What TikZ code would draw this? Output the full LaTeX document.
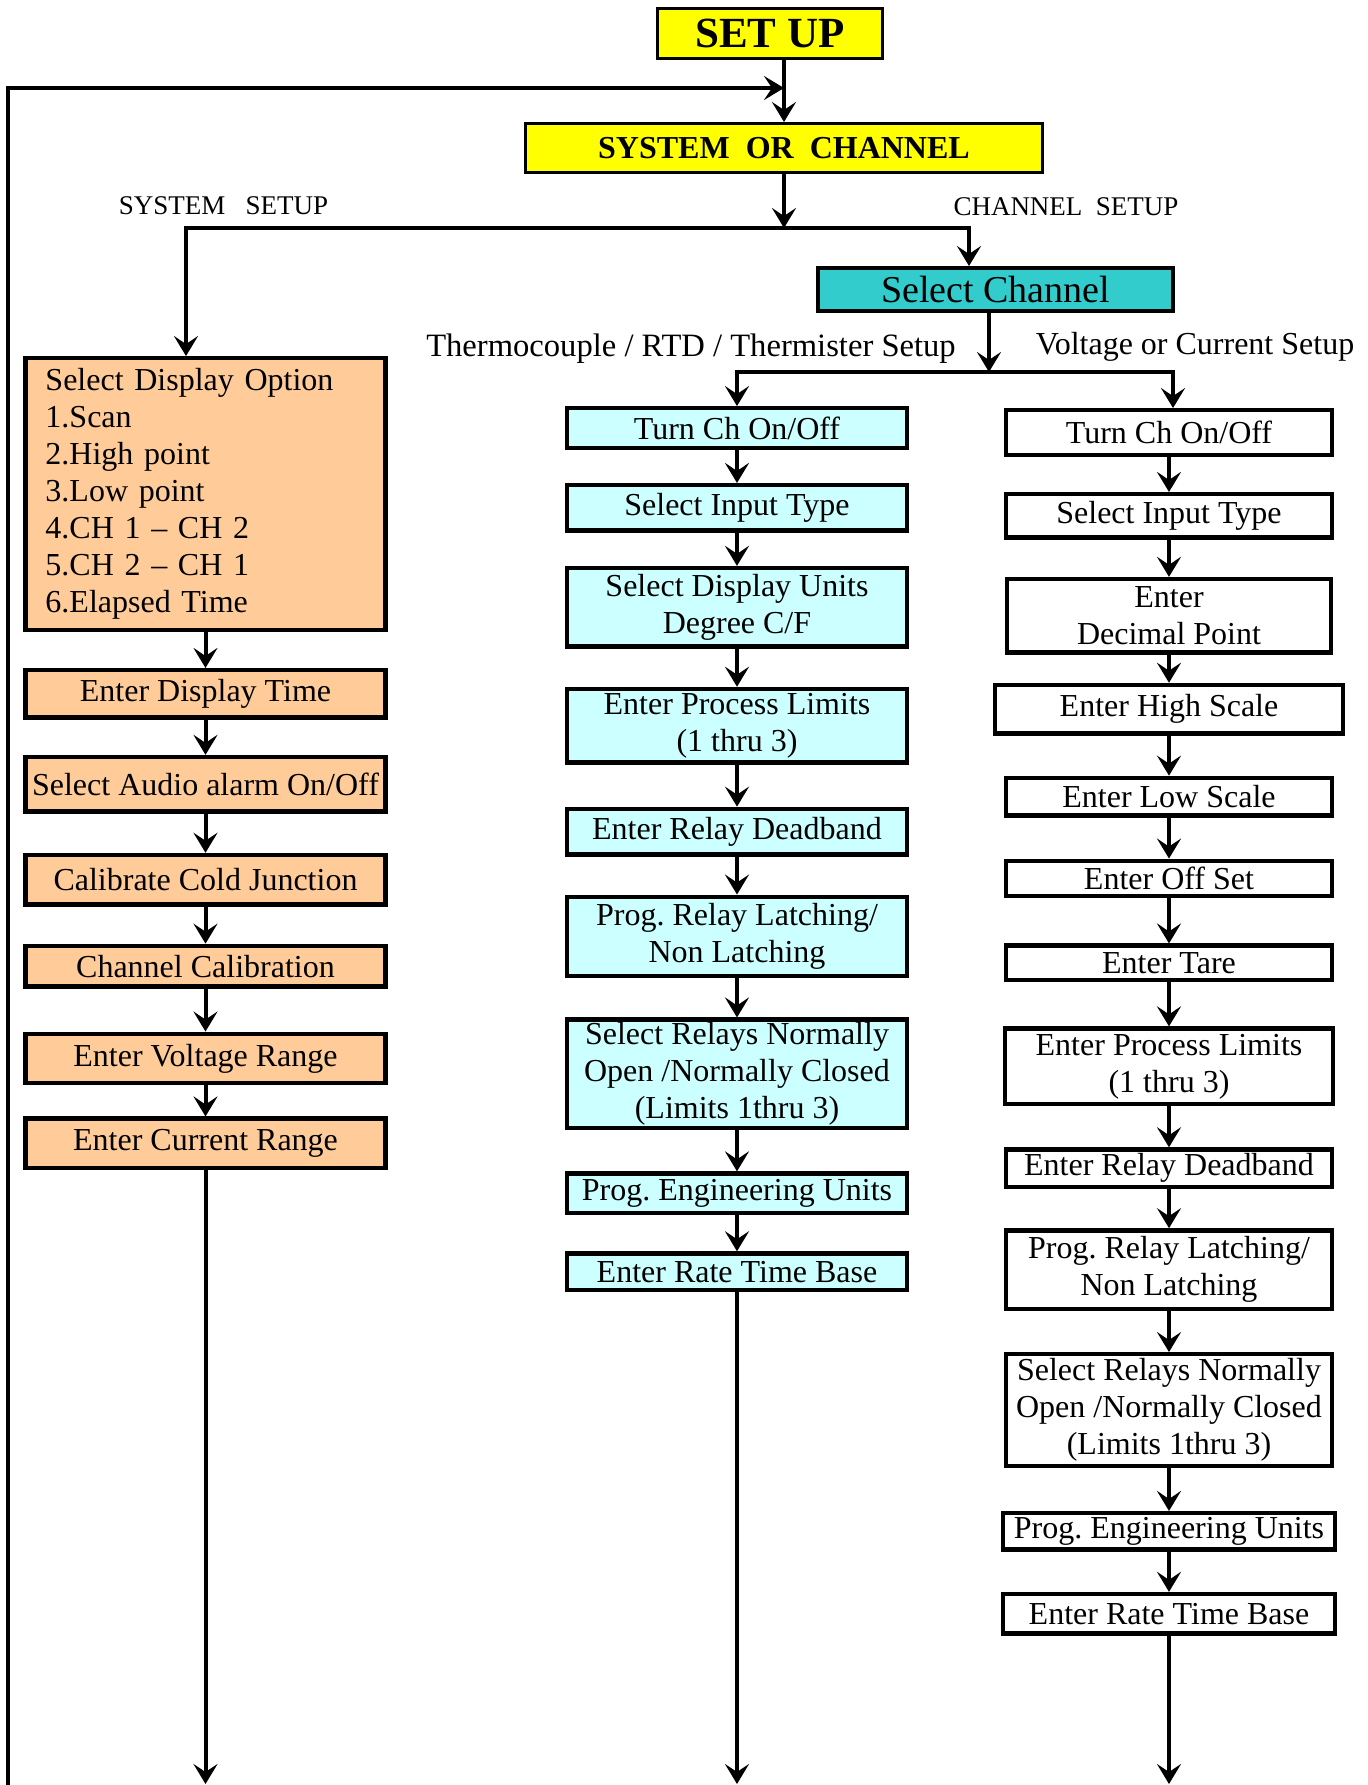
\documentclass[tikz,border=0pt]{standalone}
\usepackage{fontspec}
\setmainfont{Liberation Serif}
\frenchspacing
\usetikzlibrary{arrows.meta,positioning,calc}
\definecolor{setupyellow}{RGB}{255,255,0}
\definecolor{chteal}{RGB}{51,204,204}
\definecolor{syspeach}{RGB}{255,204,153}
\definecolor{tclight}{RGB}{204,255,255}
\tikzstyle{headbox} = [rectangle, draw=black, fill=setupyellow, line width=1.6pt, inner sep=0pt]
\tikzstyle{sysbox} = [rectangle, draw=black, fill=syspeach, line width=2.2pt, inner sep=0pt, minimum width=180pt, align=center, font=\fontsize{16}{18.5}\selectfont]
\tikzstyle{tcbox} = [rectangle, draw=black, fill=tclight, line width=2.2pt, inner sep=0pt, minimum width=170pt, align=center, font=\fontsize{16}{18.5}\selectfont]
\tikzstyle{vcbox} = [rectangle, draw=black, fill=white, line width=2.2pt, inner sep=0pt, minimum width=163pt, align=center, font=\fontsize{16}{18.5}\selectfont]
\tikzstyle{setuptext} = [inner sep=0pt, font=\fontsize{16.3}{18.5}\selectfont]
\tikzstyle{flow} = [line width=2pt, -{Stealth[length=10pt, width=12pt, inset=4pt]}]

\begin{document}
\begin{tikzpicture}[x=0.5pt, y=-0.5pt]

		\useasboundingbox (0,0) rectangle (1368,1785);

		% top of the chart
		\node (set_up) [headbox, minimum width=112.4pt, minimum height=24.9pt, font=\fontsize{21.5}{24}\bfseries\selectfont] at (770,33.5) {SET UP};
		\node (sys_or_ch) [headbox, minimum width=258.4pt, minimum height=24.4pt, font=\fontsize{16}{18}\bfseries\selectfont] at (784,148) {SYSTEM~~OR~~CHANNEL};
		\node (sel_ch) [rectangle, draw=black, fill=chteal, line width=2.2pt, inner sep=0pt, minimum width=177.3pt, minimum height=21.3pt, font=\fontsize{19}{22}\selectfont] at (995.5,289.5) {Select Channel};

		\node (sys_text) [setuptext, font=\fontsize{13.5}{16}\selectfont] at (223.5,206) {SYSTEM~~~SETUP};
		\node (ch_text) [setuptext, font=\fontsize{13.5}{16}\selectfont] at (1066,207) {CHANNEL~~SETUP};
		\node (tc_text) [setuptext] at (691,349) {Thermocouple / RTD / Thermister Setup};
		\node (vc_text) [setuptext, font=\fontsize{16}{18.5}\selectfont] at (1195,347) {Voltage or Current Setup};

		\coordinate (loop_in) at (784,88);
		\coordinate (loop_out) at (8,1792);
		\coordinate (sys_split) at (784,228);
		\coordinate (ch_split) at (989,372);

		% system setup
		\node (sel_disp) [sysbox, align=left, text width=160pt, inner xsep=10pt, minimum height=135.75pt] at (205.5,494) {Select Display Option\\1.Scan\\2.High point\\3.Low point\\4.CH 1 -- CH 2\\5.CH 2 -- CH 1\\6.Elapsed Time};
		\node (disp_time) [sysbox, minimum height=23.75pt, below = 18pt of sel_disp] {Enter Display Time};
		\node (audio) [sysbox, minimum height=27.25pt, below = 17.5pt of disp_time] {Select Audio alarm On/Off};
		\node (cold_junc) [sysbox, minimum height=24.75pt, below = 19.5pt of audio] {Calibrate Cold Junction};
		\node (ch_cal) [sysbox, minimum height=20.25pt, below = 18.5pt of cold_junc] {Channel Calibration};
		\node (volt_range) [sysbox, minimum height=24.75pt, below = 21.5pt of ch_cal] {Enter Voltage Range};
		\node (cur_range) [sysbox, minimum height=24.75pt, below = 15.5pt of volt_range] {Enter Current Range};

		% thermocouple / rtd / thermister setup
		\node (tc_onoff) [tcbox, minimum height=19.75pt] at (737,428) {Turn Ch On/Off};
		\node (tc_input) [tcbox, minimum height=22.75pt, below = 16.5pt of tc_onoff] {Select Input Type};
		\node (tc_units) [tcbox, minimum height=39.25pt, below = 16.5pt of tc_input] {Select Display Units\\Degree C/F};
		\node (tc_limits) [tcbox, minimum height=36.75pt, below = 19pt of tc_units] {Enter Process Limits\\(1 thru 3)};
		\node (tc_dead) [tcbox, minimum height=22.75pt, below = 21pt of tc_limits] {Enter Relay Deadband};
		\node (tc_latch) [tcbox, minimum height=39.75pt, below = 19pt of tc_dead] {Prog. Relay Latching/\\Non Latching};
		\node (tc_relays) [tcbox, minimum height=54.25pt, below = 19.5pt of tc_latch] {Select Relays Normally\\Open /Normally Closed\\(Limits 1thru 3)};
		\node (tc_eng) [tcbox, minimum height=19.75pt, below = 20.5pt of tc_relays] {Prog. Engineering Units};
		\node (tc_rate) [tcbox, minimum height=18.25pt, below = 18pt of tc_eng] {Enter Rate Time Base};

		% voltage or current setup
		\node (vc_onoff) [vcbox, minimum height=22.25pt] at (1169,432.5) {Turn Ch On/Off};
		\node (vc_input) [vcbox, minimum height=21.75pt, below = 17.5pt of vc_onoff] {Select Input Type};
		\node (vc_decimal) [vcbox, minimum width=162.25pt, minimum height=36.75pt, below = 18.5pt of vc_input] {Enter\\Decimal Point};
		\node (vc_high) [vcbox, minimum width=174.25pt, minimum height=24.25pt, below = 14pt of vc_decimal] {Enter High Scale};
		\node (vc_low) [vcbox, minimum height=18.75pt, below = 20pt of vc_high] {Enter Low Scale};
		\node (vc_offset) [vcbox, minimum height=17.75pt, below = 20.5pt of vc_low] {Enter Off Set};
		\node (vc_tare) [vcbox, minimum height=17.25pt, below = 22.5pt of vc_offset] {Enter Tare};
		\node (vc_limits) [vcbox, minimum width=164.25pt, minimum height=37.75pt, below = 22pt of vc_tare] {Enter Process Limits\\(1 thru 3)};
		\node (vc_dead) [vcbox, minimum height=18.75pt, below = 20.5pt of vc_limits] {Enter Relay Deadband};
		\node (vc_latch) [vcbox, minimum height=39.25pt, below = 19.5pt of vc_dead] {Prog. Relay Latching/\\Non Latching};
		\node (vc_relays) [vcbox, minimum height=55.75pt, below = 20.5pt of vc_latch] {Select Relays Normally\\Open /Normally Closed\\(Limits 1thru 3)};
		\node (vc_eng) [vcbox, minimum width=166.25pt, minimum height=18.25pt, below = 21.5pt of vc_relays] {Prog. Engineering Units};
		\node (vc_rate) [vcbox, minimum width=166.25pt, minimum height=19.75pt, below = 20pt of vc_eng] {Enter Rate Time Base};

		\coordinate (sys_out) at (cur_range.south |- 0,1784);
		\coordinate (tc_out) at (tc_rate.south |- 0,1784);
		\coordinate (vc_out) at (vc_rate.south |- 0,1784);

		% connectors at the top
		\draw [flow] (set_up.south -| sys_or_ch.north) -- (sys_or_ch.north);
		\draw [flow] (loop_out) |- (loop_in);
		\draw [flow] (sys_or_ch.south) -- (sys_split);
		\draw [flow] (sys_split) -| ([xshift=-9.75pt]sel_disp.north);
		\draw [flow] (sys_split) -| ([xshift=-13.25pt]sel_ch.north);
		\draw [flow] ([xshift=-3.25pt]sel_ch.south) -- (ch_split);
		\draw [flow] (ch_split) -| (tc_onoff.north);
		\draw [flow] (ch_split) -| ([xshift=2pt]vc_onoff.north);

		% system column
		\draw [flow] (sel_disp.south) -- (disp_time.north);
		\draw [flow] (disp_time.south) -- (audio.north);
		\draw [flow] (audio.south) -- (cold_junc.north);
		\draw [flow] (cold_junc.south) -- (ch_cal.north);
		\draw [flow] (ch_cal.south) -- (volt_range.north);
		\draw [flow] (volt_range.south) -- (cur_range.north);
		\draw [flow] (cur_range.south) -- (sys_out);

		% thermocouple column
		\draw [flow] (tc_onoff.south) -- (tc_input.north);
		\draw [flow] (tc_input.south) -- (tc_units.north);
		\draw [flow] (tc_units.south) -- (tc_limits.north);
		\draw [flow] (tc_limits.south) -- (tc_dead.north);
		\draw [flow] (tc_dead.south) -- (tc_latch.north);
		\draw [flow] (tc_latch.south) -- (tc_relays.north);
		\draw [flow] (tc_relays.south) -- (tc_eng.north);
		\draw [flow] (tc_eng.south) -- (tc_rate.north);
		\draw [flow] (tc_rate.south) -- (tc_out);

		% voltage / current column
		\draw [flow] (vc_onoff.south) -- (vc_input.north);
		\draw [flow] (vc_input.south) -- (vc_decimal.north);
		\draw [flow] (vc_decimal.south) -- (vc_high.north);
		\draw [flow] (vc_high.south) -- (vc_low.north);
		\draw [flow] (vc_low.south) -- (vc_offset.north);
		\draw [flow] (vc_offset.south) -- (vc_tare.north);
		\draw [flow] (vc_tare.south) -- (vc_limits.north);
		\draw [flow] (vc_limits.south) -- (vc_dead.north);
		\draw [flow] (vc_dead.south) -- (vc_latch.north);
		\draw [flow] (vc_latch.south) -- (vc_relays.north);
		\draw [flow] (vc_relays.south) -- (vc_eng.north);
		\draw [flow] (vc_eng.south) -- (vc_rate.north);
		\draw [flow] (vc_rate.south) -- (vc_out);

\end{tikzpicture}
\end{document}
